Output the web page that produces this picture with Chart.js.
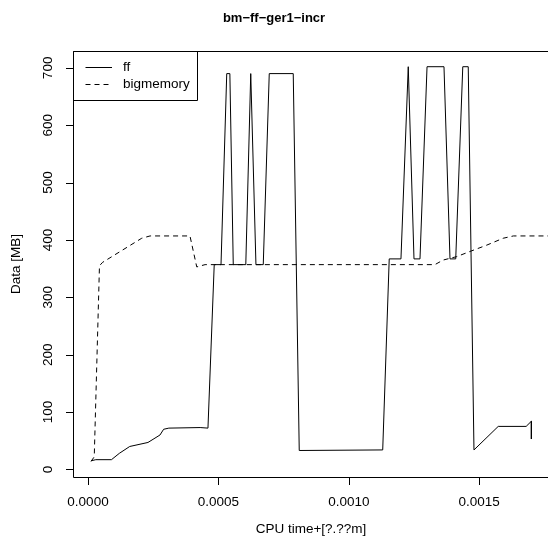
<!DOCTYPE html>
<html>
<head>
<meta charset="utf-8">
<script src="https://cdn.jsdelivr.net/npm/chart.js@4"></script>
<style>
  body { margin: 0; background: #fff; }
  canvas { display: block; }
</style>
</head>
<body>
<canvas id="chart" width="548" height="550"></canvas>
<script>
// ff series (CPU time in s, data in MB)
const ffTime = [0.0000115, 0.00003, 0.00009, 0.00012, 0.00016, 0.00023, 0.000276, 0.00029, 0.00031, 0.00043, 0.00046,
  0.000484, 0.00051, 0.000532, 0.000544, 0.000557, 0.000605, 0.000624, 0.000644, 0.000672, 0.000695, 0.000787,
  0.00081, 0.00113, 0.001155, 0.0012, 0.001228, 0.00125, 0.001273, 0.0013, 0.001365, 0.001388, 0.00141,
  0.001437, 0.001458, 0.00148, 0.001573, 0.00168, 0.0017, 0.0017];
const ffData = [15, 17, 17, 28, 40, 47, 60, 70, 72, 73, 72,
  357, 357, 690, 690, 357, 357, 690, 357, 357, 690, 690,
  33, 34, 367, 367, 702, 367, 367, 702, 702, 367, 367,
  702, 702, 34, 75, 75, 84, 53];

// bigmemory series
const bmTime = [0.0000115, 0.000024, 0.000044, 0.000056, 0.000206, 0.000238, 0.000391, 0.000417, 0.000449,
  0.00133, 0.001362, 0.001414, 0.001465, 0.001529, 0.001592, 0.001631, 0.00178];
const bmData = [14, 22, 355, 361, 403, 407, 407, 353, 357,
  357, 365, 371, 380, 391, 403, 407, 407];

const xTicks = [0, 0.0005, 0.001, 0.0015];
const xTickLabels = ["0.0000", "0.0005", "0.0010", "0.0015"];
const yTicks = [0, 100, 200, 300, 400, 500, 600, 700];
const yTickLabels = ["0", "100", "200", "300", "400", "500", "600", "700"];

const seriesNames = ["ff", "bigmemory"];
const FONT = '"Liberation Sans", Arial, Helvetica, sans-serif';

const toPoints = (xs, ys) => xs.map((x, i) => ({ x: x, y: ys[i] }));

// R style axes, box, labels and legend
const rAxes = {
  id: "rAxes",
  afterDraw(chart) {
    const ctx = chart.ctx;
    const area = chart.chartArea;
    const xs = chart.scales.x;
    const ys = chart.scales.y;
    ctx.save();
    ctx.strokeStyle = "#000";
    ctx.fillStyle = "#000";
    ctx.lineWidth = 1;

    // box
    ctx.beginPath();
    ctx.moveTo(548, area.top + 0.5);
    ctx.lineTo(area.left + 0.5, area.top + 0.5);
    ctx.lineTo(area.left + 0.5, area.bottom + 0.5);
    ctx.lineTo(548, area.bottom + 0.5);
    ctx.stroke();

    // x axis
    ctx.font = "13.5px " + FONT;
    ctx.textAlign = "center";
    ctx.textBaseline = "middle";
    ctx.beginPath();
    const x0 = Math.round(xs.getPixelForValue(xTicks[0])) + 0.5;
    ctx.moveTo(x0, area.bottom + 0.5);
    ctx.lineTo(548, area.bottom + 0.5);
    xTicks.forEach((v, i) => {
      const px = Math.round(xs.getPixelForValue(v)) + 0.5;
      ctx.moveTo(px, area.bottom + 0.5);
      ctx.lineTo(px, area.bottom + 8);
    });
    ctx.stroke();
    xTicks.forEach((v, i) => {
      ctx.fillText(xTickLabels[i], xs.getPixelForValue(v), 502);
    });

    // y axis
    ctx.beginPath();
    yTicks.forEach((v) => {
      const py = Math.round(ys.getPixelForValue(v)) + 0.5;
      ctx.moveTo(area.left + 0.5, py);
      ctx.lineTo(area.left - 7, py);
    });
    ctx.stroke();
    yTicks.forEach((v, i) => {
      ctx.save();
      ctx.translate(48.5, ys.getPixelForValue(v));
      ctx.rotate(-Math.PI / 2);
      ctx.fillText(yTickLabels[i], 0, 0);
      ctx.restore();
    });

    // axis titles
    ctx.fillText("CPU time+[?.??m]", 311, 529);
    ctx.save();
    ctx.translate(16, (area.top + area.bottom) / 2);
    ctx.rotate(-Math.PI / 2);
    ctx.fillText("Data [MB]", 0, 0);
    ctx.restore();

    // title
    ctx.font = "bold 13px " + FONT;
    ctx.fillText("bm\u2212ff\u2212ger1\u2212incr", 274, 18);

    // legend
    ctx.beginPath();
    ctx.rect(area.left + 0.5, area.top + 0.5, 124, 49);
    ctx.stroke();
    ctx.font = "13.5px " + FONT;
    ctx.textAlign = "left";
    const legendY = [67.5, 84.5];
    seriesNames.forEach((name, i) => {
      ctx.beginPath();
      ctx.setLineDash(i === 0 ? [] : [5, 4]);
      ctx.moveTo(85.5, legendY[i]);
      ctx.lineTo(112, legendY[i]);
      ctx.stroke();
      ctx.setLineDash([]);
      ctx.fillText(name, 123, legendY[i]);
    });
    ctx.restore();
  }
};

new Chart(document.getElementById("chart"), {
  type: "line",
  data: {
    datasets: [
      {
        label: seriesNames[0],
        data: toPoints(ffTime, ffData),
        borderColor: "#000",
        borderWidth: 1,
        pointRadius: 0,
        tension: 0,
        fill: false,
      },
      {
        label: seriesNames[1],
        data: toPoints(bmTime, bmData),
        borderColor: "#000",
        borderWidth: 1,
        borderDash: [5, 4],
        pointRadius: 0,
        tension: 0,
        fill: false,
      },
    ],
  },
  options: {
    responsive: false,
    animation: false,
    layout: { padding: { left: 73, top: 51, right: 0, bottom: 73 } },
    scales: {
      x: { type: "linear", min: -0.0000575, max: 0.0017638, display: false },
      y: { type: "linear", min: -13.2, max: 729.4, display: false },
    },
    plugins: {
      legend: { display: false },
      tooltip: { enabled: false },
    },
  },
  plugins: [rAxes],
});
</script>
</body>
</html>
